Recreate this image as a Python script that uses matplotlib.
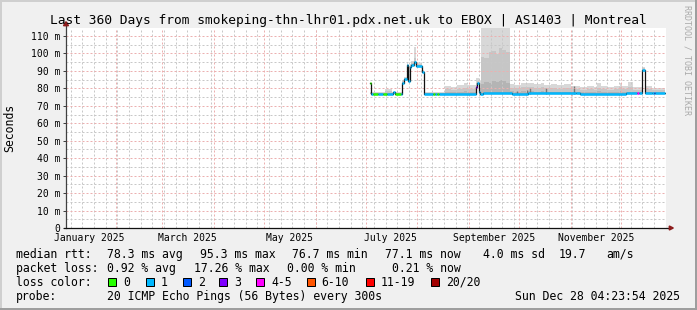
import numpy as np
import pandas as pd
import matplotlib
matplotlib.use('Agg')
import matplotlib.pyplot as plt
import matplotlib.dates as mdates
from matplotlib.patches import Rectangle, Polygon
from datetime import datetime

plt.rcParams['font.family'] = 'DejaVu Sans Mono'
plt.rcParams['lines.scale_dashes'] = False

W, H = 697, 310
t_start = datetime(2025, 1, 2, 4, 23, 54)
t_end = datetime(2025, 12, 28, 4, 23, 54)
year0 = datetime(2025, 1, 1)

# median rtt steps (day of year 2025 where a step starts, ms, pings lost of 20)
med_day = [183.6, 184.0, 185.6, 188.6, 191.6, 193.5, 197.6, 198.6, 202.0, 203.0,
           204.2, 205.6, 206.4, 207.3, 208.2, 210.2, 211.2, 215.0, 216.2, 221.2,
           222.8, 224.0, 225.2, 247.0, 248.0, 249.2, 249.8, 251.2, 268.8, 278.6,
           307.2, 309.6, 337.2, 344.0, 345.2, 347.0, 348.6, 352.6, 354.0, 354.8]
med_ms = [83.3, 77.0, 77.0, 77.0, 77.0, 77.0, 77.8, 77.0, 77.0, 83.3,
          85.2, 93.4, 84.0, 92.0, 93.4, 95.3, 93.0, 89.6, 77.0, 77.0,
          77.0, 77.0, 77.0, 81.0, 83.0, 78.0, 76.7, 77.5, 77.0, 77.3,
          77.6, 77.0, 77.5, 77.5, 77.5, 90.8, 77.5, 77.1, 77.1, 77.1]
med_loss = [0, 1, 0, 1, 0, 1, 1, 0, 1, 1,
            1, 1, 1, 1, 1, 1, 1, 1, 1, 0,
            1, 0, 1, 3, 1, 1, 1, 1, 1, 1,
            1, 1, 1, 4, 1, 1, 1, 1, 2, 1]
data_end = 360.6

# smoke bands (day of year, bottom, inner top, middle top, outer top in ms)
smoke_day = [183.6, 192.8, 196.8, 203.0, 204.2, 205.6, 206.4, 207.3, 208.2, 210.2,
             211.2, 212.6, 215.0, 216.2, 228.4, 232.0, 236.0, 240.2, 242.0, 247.0,
             248.0, 249.2, 250.0, 252.0, 255.0, 257.0, 259.0, 261.0, 263.0, 265.0,
             267.6, 270.0, 274.0, 282.0, 286.0, 288.0, 292.0, 296.0, 300.0, 304.0,
             309.6, 314.0, 318.0, 319.6, 322.0, 326.0, 330.0, 333.6, 334.8, 338.4,
             341.4, 347.0, 348.6, 352.6, 356.0]
smoke_lo = [76.8, 76.8, 76.8, 83.0, 84.9, 93.0, 83.8, 91.7, 93.1, 95.0,
            92.7, 92.7, 89.3, 76.8, 76.8, 76.8, 76.8, 76.8, 76.8, 80.6,
            82.6, 76.5, 76.5, 76.5, 76.5, 76.5, 76.5, 76.5, 76.5, 76.5,
            76.5, 76.5, 76.5, 76.5, 76.5, 76.5, 76.5, 76.5, 76.5, 76.5,
            76.5, 76.5, 76.5, 76.5, 76.5, 76.5, 76.5, 76.5, 76.5, 76.5,
            76.5, 90.2, 76.5, 76.5, 76.5]
smoke_in = [77.2, 77.4, 77.2, 83.5, 85.4, 93.6, 84.6, 92.4, 93.8, 95.8,
            93.3, 93.3, 89.7, 77.2, 78.0, 77.9, 78.1, 78.3, 78.0, 81.3,
            83.2, 77.8, 82.5, 83.5, 82.8, 84.5, 83.5, 85.0, 84.0, 83.2,
            78.3, 78.0, 78.4, 78.2, 78.6, 78.0, 78.2, 78.0, 78.1, 77.9,
            77.8, 77.9, 77.8, 78.3, 77.9, 77.7, 77.8, 78.3, 77.8, 78.2,
            77.8, 90.8, 77.9, 77.7, 77.6]
smoke_mid = [77.5, 78.3, 77.5, 84.0, 85.8, 94.2, 88.0, 93.2, 94.6, 97.5,
             94.0, 93.8, 90.0, 77.5, 79.4, 79.2, 79.6, 80.5, 79.8, 83.0,
             84.2, 80.0, 98.2, 97.2, 101.0, 101.4, 99.5, 103.0, 102.0, 100.7,
             80.5, 80.0, 80.6, 80.3, 81.0, 80.0, 80.3, 79.8, 80.1, 79.6,
             79.3, 79.5, 79.3, 80.5, 79.6, 79.1, 79.4, 80.6, 79.4, 80.6,
             79.3, 91.5, 79.5, 79.0, 78.8]
smoke_hi = [78.0, 79.5, 78.0, 84.6, 86.4, 95.0, 93.0, 94.2, 95.9, 103.5,
            95.3, 94.3, 90.4, 78.0, 81.4, 81.0, 81.7, 83.2, 82.0, 85.8,
            85.8, 84.0, 116.0, 116.0, 116.0, 116.0, 116.0, 116.0, 116.0, 116.0,
            82.5, 82.0, 82.8, 82.5, 83.3, 82.0, 82.5, 81.8, 82.3, 81.5,
            81.0, 81.3, 81.0, 83.2, 81.5, 80.8, 81.2, 83.2, 81.2, 83.5,
            81.0, 92.4, 81.4, 80.5, 80.2]

# single dark smoke marks
dark_day = [271.6, 277.6, 279.3, 289.2, 305.7]
dark_ms = [78.6, 78.8, 80.0, 80.0, 81.5]

y_ticks = [0, 10, 20, 30, 40, 50, 60, 70, 80, 90, 100, 110]
y_labels = ['0', '10 m', '20 m', '30 m', '40 m', '50 m', '60 m', '70 m',
            '80 m', '90 m', '100 m', '110 m']

loss_max = [0, 1, 2, 3, 5, 10, 19, 20]
loss_cols = ['#26ff00', '#00b8ff', '#0059ff', '#7e00ff', '#ff00ff', '#ff5500', '#ff0000', '#a10000']
loss_names = ['0', '1', '2', '3', '4-5', '6-10', '11-19', '20/20']


def loss_color(n):
    for ub, c in zip(loss_max, loss_cols):
        if n <= ub:
            return c
    return loss_cols[-1]


base = mdates.date2num(year0)


def dn(d):
    return base + np.asarray(d, dtype=float)


def fx(px):
    return px / W


def fy(py):
    return 1 - py / H


fig = plt.figure(figsize=(W / 100, H / 100), dpi=100, facecolor='#f0f0f0')
ax = fig.add_axes([fx(66), fy(228), 600 / W, 200 / H])
ax.set_facecolor('white')
ax.set_xlim(mdates.date2num(t_start), mdates.date2num(t_end))
ax.set_ylim(0, 114.6)

# smoke
sx = np.append(dn(smoke_day), dn(data_end))
def ext(a):
    return np.append(a, a[-1])
ax.fill_between(sx, ext(smoke_lo), ext(smoke_hi), step='post', color='#d8d8d8', lw=0, zorder=1)
ax.fill_between(sx, ext(smoke_lo), ext(smoke_mid), step='post', color='#c6c6c6', lw=0, zorder=1.1)
ax.fill_between(sx, ext(smoke_lo), ext(smoke_in), step='post', color='#b4b4b4', lw=0, zorder=1.2)
ax.vlines(dn(dark_day), 77.0, dark_ms, color='#777777', lw=1.0, zorder=1.3)

# grid
dots = (0, (1.44, 1.44))
for d in pd.date_range('2025-01-05', '2025-12-28', freq='7D'):
    ax.axvline(mdates.date2num(d), color='#c8c8c8', lw=0.72, ls=dots, zorder=2)
for d in pd.date_range('2025-02-01', '2025-12-01', freq='MS'):
    ax.axvline(mdates.date2num(d), color='#ecb0b0', lw=0.72, ls=dots, zorder=2.1)
for v in range(5, 115, 5):
    c = '#ecb0b0' if v % 10 == 0 else '#c8c8c8'
    ax.axhline(v, color=c, lw=0.72, ls=dots, zorder=2)

# median line
mx = np.append(dn(med_day), dn(data_end))
my = np.append(med_ms, med_ms[-1])
ax.step(mx, my, where='post', color='#111111', lw=0.9, zorder=3)
for i in range(len(med_day)):
    ax.hlines(med_ms[i], mx[i], mx[i + 1], color=loss_color(med_loss[i]), lw=1.8, zorder=4)

# axes
for s in ax.spines.values():
    s.set_visible(False)
ax.plot([0, 0], [0, 1.015], transform=ax.transAxes, clip_on=False, color='#404040', lw=0.9, zorder=5)
ax.plot([-0.004, 1.006], [0, 0], transform=ax.transAxes, clip_on=False, color='#111111', lw=0.9, zorder=5)
ax.add_patch(Polygon([(-0.0042, 1.0115), (0.0042, 1.0115), (0, 1.0315)], closed=True,
                     transform=ax.transAxes, clip_on=False, color='#8c1c1c', zorder=6))
ax.add_patch(Polygon([(1.0055, -0.01), (1.0055, 0.01), (1.0122, 0)], closed=True,
                     transform=ax.transAxes, clip_on=False, color='#8c1c1c', zorder=6))

ax.set_yticks(y_ticks)
ax.set_yticklabels(y_labels)
ax.tick_params(axis='y', direction='out', length=2, width=0.72, color='#404040', pad=2.2, labelsize=7)
ax.xaxis.set_major_locator(mdates.MonthLocator(bymonth=[1, 3, 5, 7, 9, 11], bymonthday=16))
ax.xaxis.set_major_formatter(mdates.DateFormatter('%B %Y'))
ax.tick_params(axis='x', length=0, pad=3.5, labelsize=7)

# titles
fig.text(fx(348.5), fy(24), 'Last 360 Days from smokeping-thn-lhr01.pdx.net.uk to EBOX | AS1403 | Montreal',
         ha='center', va='baseline', fontsize=9.3)
fig.text(fx(10), fy(128), 'Seconds', rotation=90, ha='center', va='center', fontsize=8.3)
fig.text(fx(687), fy(5), 'RRDTOOL / TOBI OETIKER', rotation=270, ha='center', va='top',
         fontsize=6, color='#aaaaaa')

# legend
lf = 8.3
row = [257.7, 271.7, 285.7, 300.0]
rtt_parts = [(16, 'median rtt:'), (107.3, '78.3 ms avg'), (200, '95.3 ms max'), (291.7, '76.7 ms min'),
             (385, '77.1 ms now'), (482.7, '4.0 ms sd'), (558.3, '19.7'), (606.7, 'am/s')]
loss_parts = [(16, 'packet loss:'), (107.3, '0.92 % avg'), (194, '17.26 % max'), (287.3, '0.00 % min'),
              (391.7, '0.21 % now')]
for x, s in rtt_parts:
    fig.text(fx(x), fy(row[0]), s, ha='left', va='baseline', fontsize=lf)
for x, s in loss_parts:
    fig.text(fx(x), fy(row[1]), s, ha='left', va='baseline', fontsize=lf)
fig.text(fx(16), fy(row[2]), 'loss color:', ha='left', va='baseline', fontsize=lf)
sw_x = [108.3, 145.7, 182.7, 219.3, 256, 306.7, 366, 430.7]
for x, c, s in zip(sw_x, loss_cols, loss_names):
    fig.patches.append(Rectangle((fx(x), fy(286)), 8 / W, 8 / H, transform=fig.transFigure,
                                 facecolor=c, edgecolor='black', lw=0.72))
    fig.text(fx(x + 15), fy(row[2]), s, ha='left', va='baseline', fontsize=lf)
fig.text(fx(16), fy(row[3]), 'probe:', ha='left', va='baseline', fontsize=lf)
fig.text(fx(107.3), fy(row[3]), '20 ICMP Echo Pings (56 Bytes) every 300s', ha='left', va='baseline', fontsize=lf)
fig.text(fx(680), fy(row[3]), 'Sun Dec 28 04:23:54 2025', ha='right', va='baseline', fontsize=lf)

# 3d border
fig.patches.append(Rectangle((0, fy(2)), 1, 2 / H, transform=fig.transFigure, color='#cfcfcf', lw=0))
fig.patches.append(Rectangle((0, 0), 2 / W, 1, transform=fig.transFigure, color='#cfcfcf', lw=0))
fig.patches.append(Rectangle((0, 0), 1, 2.5 / H, transform=fig.transFigure, color='#9e9e9e', lw=0))
fig.patches.append(Rectangle((1 - 2.5 / W, 0), 2.5 / W, 1, transform=fig.transFigure, color='#9e9e9e', lw=0))

fig.savefig('out.png', dpi=100, facecolor=fig.get_facecolor())
